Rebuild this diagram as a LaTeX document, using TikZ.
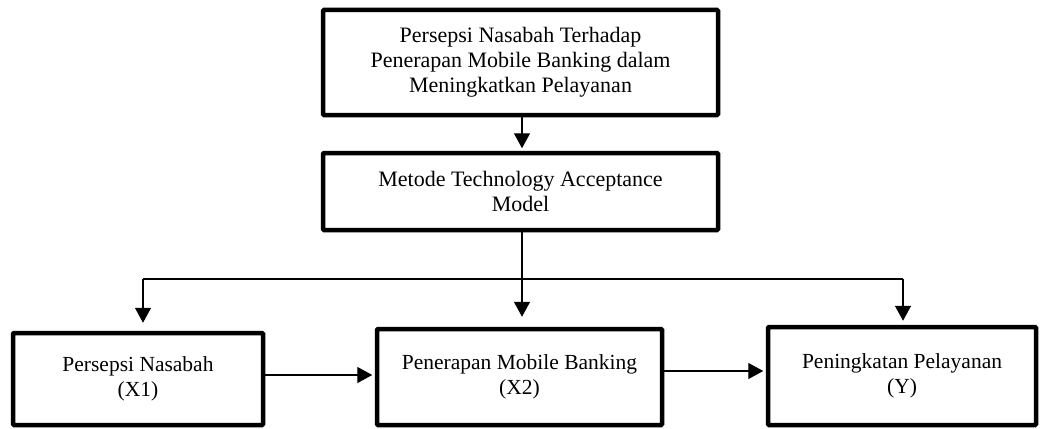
\documentclass[tikz,border=0pt]{standalone}
\usepackage{fontspec}
\setmainfont{Liberation Serif}
\usetikzlibrary{arrows.meta}
\tikzset{
  box/.style={draw, line width=4.5pt, rounded corners=1pt, align=center, inner sep=0pt},
  conn/.style={line width=1.4pt},
  arr/.style={line width=1.4pt, -{Triangle[width=16pt,length=15pt]}},
  bigtxt/.style={font=\fontsize{22}{25}\selectfont},
  smalltxt/.style={font=\fontsize{21.5}{25}\selectfont}
}
\begin{document}
\begin{tikzpicture}[x=1pt,y=-1pt]
\useasboundingbox (0,0) rectangle (1040,428);
\node[box, bigtxt, minimum width=395pt, minimum height=105pt] (top) at (520.5,62.5)
  {Persepsi Nasabah Terhadap\\Penerapan Mobile Banking dalam\\Meningkatkan Pelayanan};
\node[box, bigtxt, minimum width=395pt, minimum height=77pt] (mid) at (520.5,191.5)
  {Metode Technology Acceptance\\Model};
\node[box, smalltxt, minimum width=250pt, minimum height=92pt] (x1) at (138,379)
  {Persepsi Nasabah\\(X1)};
\node[box, smalltxt, minimum width=285pt, minimum height=96pt] (x2) at (519.5,377)
  {Penerapan Mobile Banking\\(X2)};
\node[box, smalltxt, minimum width=268pt, minimum height=98pt] (y) at (902,376)
  {Peningkatan Pelayanan\\(Y)};
\coordinate (bl) at (143,279);
\coordinate (br) at (903,279);
\draw[arr, shorten >=2.5pt] ([xshift=1.5pt]top.south) -- ([xshift=1.5pt]mid.north);
\draw[conn] (bl) -- (br);
\draw[arr, shorten >=8pt] (bl) -- (bl |- x1.north);
\draw[arr, shorten >=10pt] ([xshift=1.5pt]mid.south) -- ([xshift=1.5pt]mid.south |- x2.north);
\draw[arr, shorten >=4pt] (br) -- (br |- y.north);
\draw[arr, shorten >=2.5pt] ([yshift=4pt]x1.east) -- ([yshift=4pt]x1.east -| x2.west);
\draw[arr, shorten >=2.5pt] ([yshift=6pt]x2.east) -- ([yshift=6pt]x2.east -| y.west);
\end{tikzpicture}
\end{document}
